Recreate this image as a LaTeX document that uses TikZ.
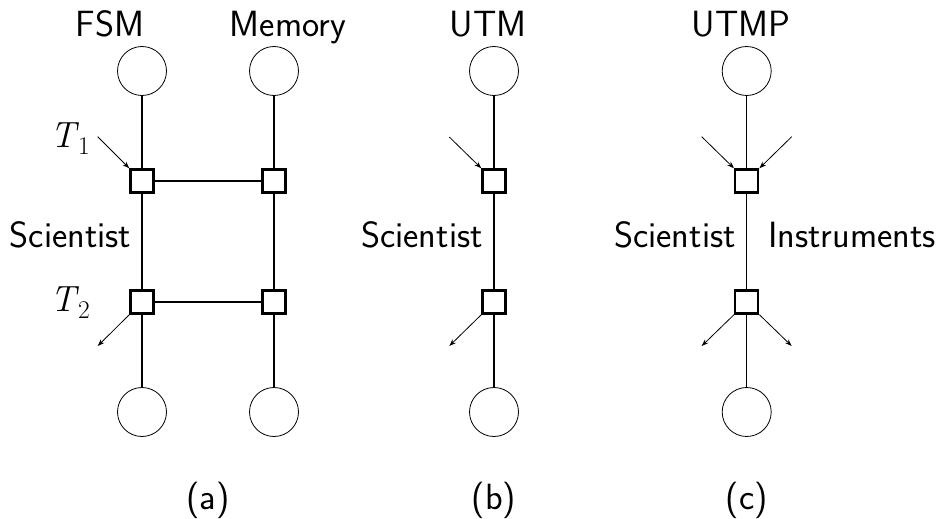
\documentclass[tikz,border=0pt]{standalone}
\usetikzlibrary{arrows.meta}
\newcommand{\Tsub}[1]{\textit{T}\kern-1pt\raisebox{-7pt}{\fontsize{25.5}{30}\selectfont\rmfamily #1}}
\begin{document}
\begin{tikzpicture}[x=1pt,y=-1pt,
  state/.style={circle,draw,line width=0.8pt,minimum size=49pt,inner sep=0pt},
  tbox/.style={rectangle,draw,line width=2.4pt,minimum size=23pt,inner sep=0pt,fill=white},
  conn/.style={line width=1.5pt},
  io/.style={line width=0.8pt,-{Stealth[length=7pt,width=5pt]}},
  lbl/.style={font=\fontsize{36.5}{44}\selectfont\sffamily,inner sep=0pt,anchor=base},
  mlbl/.style={font=\fontsize{36.5}{44}\selectfont\rmfamily,inner sep=0pt,anchor=base}]
\useasboundingbox (0,0) rectangle (938,519);

% ---------- (a) ----------
\node[lbl] (lfsm) at (110,37) {FSM};
\node[lbl] (lmem) at (288,37) {Memory};
\node[state] (fa1) at (142,71) {};
\node[state] (fa2) at (142,412) {};
\node[state] (ma1) at (274,71) {};
\node[state] (ma2) at (274,412) {};
\node[tbox] (sa1) at (142,181) {};
\node[tbox] (sa2) at (142,302) {};
\node[tbox] (ta1) at (274,181) {};
\node[tbox] (ta2) at (274,302) {};
\draw[conn] (fa1) -- (sa1);
\draw[conn] (sa1) -- (sa2);
\draw[conn] (sa2) -- (fa2);
\draw[conn] (ma1) -- (ta1);
\draw[conn] (ta1) -- (ta2);
\draw[conn] (ta2) -- (ma2);
\draw[conn] (sa1) -- (ta1);
\draw[conn] (sa2) -- (ta2);
\coordinate (ina) at (97.7,136.7);
\coordinate (outa) at (97.7,346);
\draw[io] (ina) -- (sa1.north west);
\draw[io] (sa2.south west) -- (outa);
\node[mlbl] (t1) at (70,147) {\Tsub{1}};
\node[mlbl] (t2) at (70,311) {\Tsub{2}};
\node[lbl] (sca) at (70.5,247) {Scientist};
\node[lbl] (capa) at (208,509) {(a)};

% ---------- (b) ----------
\node[lbl] (lutm) at (488,37) {UTM};
\node[state] (fb1) at (494,71) {};
\node[state] (fb2) at (494,412) {};
\node[tbox] (sb1) at (494,181) {};
\node[tbox] (sb2) at (494,302) {};
\draw[conn] (fb1) -- (sb1);
\draw[conn] (sb1) -- (sb2);
\draw[conn] (sb2) -- (fb2);
\coordinate (inb) at (449.3,137);
\coordinate (outb) at (449.3,346);
\draw[io] (inb) -- (sb1.north west);
\draw[io] (sb2.south west) -- (outb);
\node[lbl] (scb) at (422,247) {Scientist};
\node[lbl] (capb) at (494,509) {(b)};

% ---------- (c) ----------
\node[lbl] (lutmp) at (741,37) {UTMP};
\node[state] (fc1) at (746.7,71) {};
\node[state] (fc2) at (746.7,412) {};
\node[tbox] (sc1) at (746.7,181) {};
\node[tbox] (sc2) at (746.7,302) {};
\draw[conn] (fc1) -- (sc1);
\draw[conn] (sc1) -- (sc2);
\draw[conn] (sc2) -- (fc2);
\coordinate (inc1) at (701.7,136.7);
\coordinate (inc2) at (791.7,136.7);
\coordinate (outc1) at (701.7,346);
\coordinate (outc2) at (791.7,346);
\draw[io] (inc1) -- (sc1.north west);
\draw[io] (inc2) -- (sc1.north east);
\draw[io] (sc2.south west) -- (outc1);
\draw[io] (sc2.south east) -- (outc2);
\node[lbl] (scc) at (675,247) {Scientist};
\node[lbl] (ins) at (852,247) {Instruments};
\node[lbl] (capc) at (746.7,509) {(c)};
\end{tikzpicture}
\end{document}
